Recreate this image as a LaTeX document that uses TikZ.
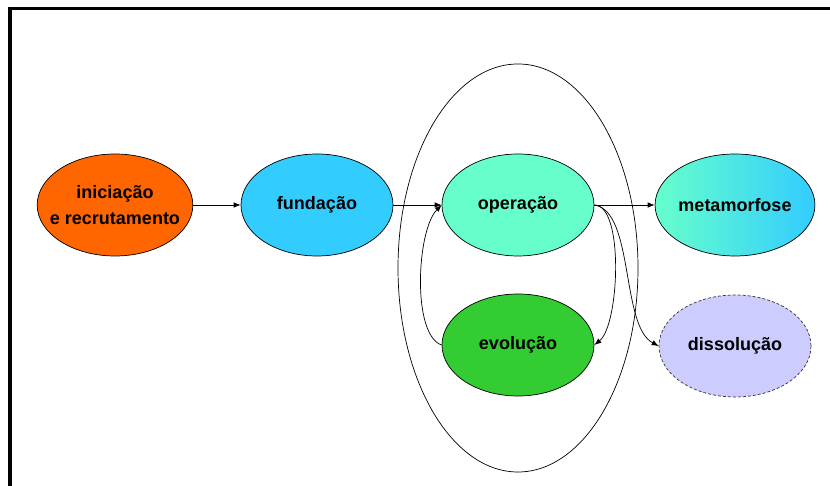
\documentclass[tikz,border=0pt]{standalone}
\usepackage{fontspec}
\setmainfont{Liberation Sans}
\usetikzlibrary{shapes.geometric,arrows.meta}

\definecolor{arancio}{HTML}{FF6600}
\definecolor{celeste}{HTML}{33CCFF}
\definecolor{acqua}{HTML}{66FFCC}
\definecolor{verde}{HTML}{33CC33}
\definecolor{lilla}{HTML}{CCCCFF}

\tikzset{
  fase/.style={ellipse,draw,line width=0.7pt,minimum width=152pt,minimum height=102pt,
    inner sep=0pt,align=center,font=\fontsize{18}{26}\selectfont\bfseries},
  freccia/.style={-{Latex[length=7pt,width=5.5pt]},line width=0.7pt}
}

\begin{document}
\begin{tikzpicture}[x=1pt,y=1pt]
  \useasboundingbox (0,0) rectangle (830,486);

  % cornice
  \draw[line width=3.3pt] (10,0) -- (10,477.7) -- (830,477.7);

  \node[ellipse,draw,line width=0.7pt,minimum width=240pt,minimum height=408pt] (ciclo) at (518,218) {};

  \begin{scope}
    \node[fase,fill=arancio,inner xsep=-10pt] (inizio) at (115,281) {iniciação\\e recrutamento};
    \node[fase,fill=celeste] (fondazione) at (317,281) {fundação};
    \node[fase,fill=acqua] (operazione) at (518,281) {operação};
    \node[fase,fill=verde] (evoluzione) at (518,141) {evolução};
    \node[fase,left color=acqua,right color=celeste] (metamorfosi) at (735,281) {metamorfose};
    \node[fase,fill=lilla,dash pattern=on 3pt off 2pt,draw=black!80] (dissoluzione) at (735,140) {dissolução};
  \end{scope}

  \draw[freccia] (inizio) -- (fondazione);
  \draw[freccia] (fondazione) -- (operazione);
  \draw[freccia] (operazione) -- (metamorfosi);

  \draw[freccia] (operazione.east) .. controls +(30,0) and +(25,20) .. (evoluzione.east);
  \draw[freccia] (operazione.east) .. controls +(40,-6) and +(-38,20) .. (dissoluzione.west);
  \draw[freccia] (evoluzione.west) .. controls +(-30,10) and +(-25,-25) .. (operazione.west);
\end{tikzpicture}
\end{document}
